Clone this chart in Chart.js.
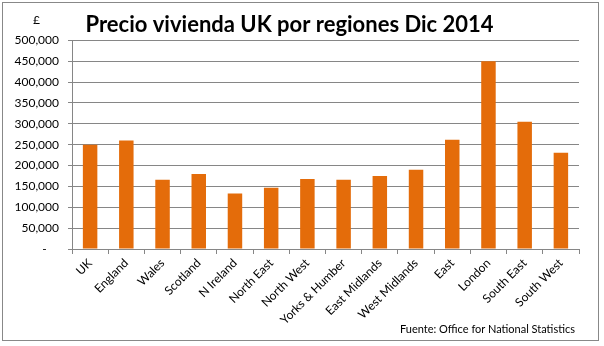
<!DOCTYPE html>
<html>
<head>
<meta charset="utf-8">
<script src="https://cdn.jsdelivr.net/npm/chart.js@4"></script>
<style>
  body { margin: 0; background: #fff; }
  #wrap { position: relative; width: 604px; height: 346px; }
  #frame { position: absolute; left: 2px; top: 2px; width: 595px; height: 337px; border: 1px solid #888; pointer-events: none; }
  .lbl { position: absolute; font-family: Lato, sans-serif; color: #000; white-space: nowrap; }
  #unit { left: 33px; top: 12px; font-size: 12px; }
  #source { left: 400px; top: 322px; font-size: 11px; }
</style>
</head>
<body>
<div id="wrap">
  <canvas id="chart" width="604" height="346"></canvas>
  <div id="frame"></div>
  <div class="lbl" id="unit">£</div>
  <div class="lbl" id="source">Fuente: Office for National Statistics</div>
</div>
<script>
// Regions and average house price, Dec 2014
const regions = [
  "UK", "England", "Wales", "Scotland", "N Ireland", "North East", "North West",
  "Yorks & Humber", "East Midlands", "West Midlands", "East", "London", "South East", "South West",
];
const prices = [
  250000, 260000, 166000, 180000, 133000, 147000, 168000,
  166000, 175000, 190000, 262000, 450000, 305000, 231000,
];
const yMax = 500000;
const yStep = 50000;

const gridColor = "#868686";

new Chart(document.getElementById("chart"), {
  type: "bar",
  data: {
    labels: regions,
    datasets: [
      {
        data: prices,
        backgroundColor: "#E46C0A",
        categoryPercentage: 1,
        barPercentage: 0.4,
      },
    ],
  },
  options: {
    responsive: false,
    animation: false,
    layout: { padding: { left: 0, right: 25, top: 0, bottom: 0 } },
    plugins: {
      legend: { display: false },
      tooltip: { enabled: false },
      title: {
        display: true,
        text: "Precio vivienda UK por regiones Dic 2014",
        color: "#000",
        font: { family: "Lato", size: 22, weight: "bold" },
        padding: { top: 12, bottom: 2 },
      },
    },
    scales: {
      x: {
        afterFit: (scale) => { scale.height = 97; },
        grid: { drawOnChartArea: false, color: gridColor, tickLength: 5, offset: true },
        border: { color: gridColor },
        ticks: {
          color: "#000",
          font: { family: "Lato", size: 12 },
          minRotation: 45,
          maxRotation: 45,
          padding: 2,
        },
      },
      y: {
        min: 0,
        max: yMax,
        afterFit: (scale) => { scale.width = 72; },
        grid: { color: gridColor, tickLength: 4 },
        border: { color: gridColor },
        ticks: {
          stepSize: yStep,
          color: "#000",
          font: { family: "Lato", size: 12 },
          padding: 9,
          callback: (v) => (v === 0 ? "-    " : v.toLocaleString("en-US")),
        },
      },
    },
  },
});
</script>
</body>
</html>
